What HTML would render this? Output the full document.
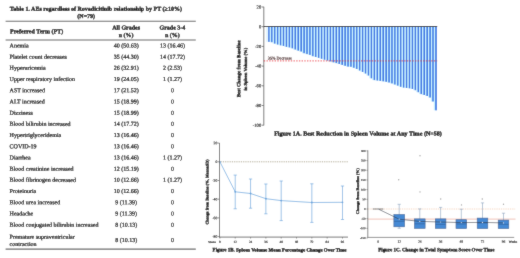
<!DOCTYPE html>
<html><head><meta charset="utf-8"><title>Figure</title>
<style>html,body{margin:0;padding:0;background:#fff;}body{width:520px;height:258px;overflow:hidden;font-family:"Liberation Serif",serif;}svg{display:block;}text{font-family:"Liberation Serif",serif;stroke:#000;stroke-width:0.22px;}text[font-weight=bold]{stroke-width:0.3px;}</style>
</head><body>
<svg width="520" height="258" viewBox="0 0 520 258">
<defs><filter id="soft" x="0" y="0" width="520" height="258" filterUnits="userSpaceOnUse"><feConvolveMatrix order="3" kernelMatrix="0.25 1 0.25 1 10 1 0.25 1 0.25" divisor="15" edgeMode="duplicate" preserveAlpha="true"/></filter></defs>
<rect x="0" y="0" width="520" height="258" fill="#ffffff"/>
<g filter="url(#soft)">
<rect x="0" y="0" width="520" height="258" fill="#ffffff"/>
<g id="table">
<text transform="translate(9.80 10.70) rotate(0.03)" font-size="6" font-weight="bold" text-anchor="start" fill="#000" >Table 1. AEs regardless of Rovadicitinib relationship by PT (≥10%)</text>
<text transform="translate(86.20 17.90) rotate(0.03)" font-size="6" font-weight="bold" text-anchor="middle" fill="#000" >(N=79)</text>
<line x1="5.60" y1="21.20" x2="195.80" y2="21.20" stroke="#666666" stroke-width="1.05" />
<line x1="5.60" y1="39.90" x2="195.80" y2="39.90" stroke="#666666" stroke-width="1.05" />
<line x1="5.60" y1="249.10" x2="195.80" y2="249.10" stroke="#666666" stroke-width="1.05" />
<text transform="translate(10.10 33.30) rotate(0.03)" font-size="6" font-weight="bold" text-anchor="start" fill="#000" >Preferred Term (PT)</text>
<text transform="translate(126.20 29.40) rotate(0.03)" font-size="6" font-weight="bold" text-anchor="middle" fill="#000" >All Grades</text>
<text transform="translate(126.20 36.90) rotate(0.03)" font-size="6" font-weight="bold" text-anchor="middle" fill="#000" >n (%)</text>
<text transform="translate(172.40 29.40) rotate(0.03)" font-size="6" font-weight="bold" text-anchor="middle" fill="#000" >Grade 3-4</text>
<text transform="translate(172.40 36.90) rotate(0.03)" font-size="6" font-weight="bold" text-anchor="middle" fill="#000" >n (%)</text>
<text transform="translate(9.60 47.45) rotate(0.03)" font-size="6" text-anchor="start" fill="#000" >Anemia</text>
<text transform="translate(126.20 47.45) rotate(0.03)" font-size="6" text-anchor="middle" fill="#000" >40 (50.63)</text>
<text transform="translate(172.40 47.45) rotate(0.03)" font-size="6" text-anchor="middle" fill="#000" >13 (16.46)</text>
<text transform="translate(9.60 58.65) rotate(0.03)" font-size="6" text-anchor="start" fill="#000" >Platelet count decreases</text>
<text transform="translate(126.20 58.65) rotate(0.03)" font-size="6" text-anchor="middle" fill="#000" >35 (44.30)</text>
<text transform="translate(172.40 58.65) rotate(0.03)" font-size="6" text-anchor="middle" fill="#000" >14 (17.72)</text>
<text transform="translate(9.60 69.85) rotate(0.03)" font-size="6" text-anchor="start" fill="#000" >Hyperuricemia</text>
<text transform="translate(126.20 69.85) rotate(0.03)" font-size="6" text-anchor="middle" fill="#000" >26 (32.91)</text>
<text transform="translate(172.40 69.85) rotate(0.03)" font-size="6" text-anchor="middle" fill="#000" >2 (2.53)</text>
<text transform="translate(9.60 81.05) rotate(0.03)" font-size="6" text-anchor="start" fill="#000" >Upper respiratory infection</text>
<text transform="translate(126.20 81.05) rotate(0.03)" font-size="6" text-anchor="middle" fill="#000" >19 (24.05)</text>
<text transform="translate(172.40 81.05) rotate(0.03)" font-size="6" text-anchor="middle" fill="#000" >1 (1.27)</text>
<text transform="translate(9.60 92.25) rotate(0.03)" font-size="6" text-anchor="start" fill="#000" >AST increased</text>
<text transform="translate(126.20 92.25) rotate(0.03)" font-size="6" text-anchor="middle" fill="#000" >17 (21.52)</text>
<text transform="translate(172.40 92.25) rotate(0.03)" font-size="6" text-anchor="middle" fill="#000" >0</text>
<text transform="translate(9.60 103.45) rotate(0.03)" font-size="6" text-anchor="start" fill="#000" >ALT increased</text>
<text transform="translate(126.20 103.45) rotate(0.03)" font-size="6" text-anchor="middle" fill="#000" >15 (18.99)</text>
<text transform="translate(172.40 103.45) rotate(0.03)" font-size="6" text-anchor="middle" fill="#000" >0</text>
<text transform="translate(9.60 114.65) rotate(0.03)" font-size="6" text-anchor="start" fill="#000" >Dizziness</text>
<text transform="translate(126.20 114.65) rotate(0.03)" font-size="6" text-anchor="middle" fill="#000" >15 (18.99)</text>
<text transform="translate(172.40 114.65) rotate(0.03)" font-size="6" text-anchor="middle" fill="#000" >0</text>
<text transform="translate(9.60 125.85) rotate(0.03)" font-size="6" text-anchor="start" fill="#000" >Blood bilirubin increased</text>
<text transform="translate(126.20 125.85) rotate(0.03)" font-size="6" text-anchor="middle" fill="#000" >14 (17.72)</text>
<text transform="translate(172.40 125.85) rotate(0.03)" font-size="6" text-anchor="middle" fill="#000" >0</text>
<text transform="translate(9.60 137.05) rotate(0.03)" font-size="6" text-anchor="start" fill="#000" >Hypertriglyceridemia</text>
<text transform="translate(126.20 137.05) rotate(0.03)" font-size="6" text-anchor="middle" fill="#000" >13 (16.46)</text>
<text transform="translate(172.40 137.05) rotate(0.03)" font-size="6" text-anchor="middle" fill="#000" >0</text>
<text transform="translate(9.60 148.25) rotate(0.03)" font-size="6" text-anchor="start" fill="#000" >COVID-19</text>
<text transform="translate(126.20 148.25) rotate(0.03)" font-size="6" text-anchor="middle" fill="#000" >13 (16.46)</text>
<text transform="translate(172.40 148.25) rotate(0.03)" font-size="6" text-anchor="middle" fill="#000" >0</text>
<text transform="translate(9.60 159.45) rotate(0.03)" font-size="6" text-anchor="start" fill="#000" >Diarrhea</text>
<text transform="translate(126.20 159.45) rotate(0.03)" font-size="6" text-anchor="middle" fill="#000" >13 (16.46)</text>
<text transform="translate(172.40 159.45) rotate(0.03)" font-size="6" text-anchor="middle" fill="#000" >1 (1.27)</text>
<text transform="translate(9.60 170.65) rotate(0.03)" font-size="6" text-anchor="start" fill="#000" >Blood creatinine increased</text>
<text transform="translate(126.20 170.65) rotate(0.03)" font-size="6" text-anchor="middle" fill="#000" >12 (15.19)</text>
<text transform="translate(172.40 170.65) rotate(0.03)" font-size="6" text-anchor="middle" fill="#000" >0</text>
<text transform="translate(9.60 181.85) rotate(0.03)" font-size="6" text-anchor="start" fill="#000" >Blood fibrinogen decreased</text>
<text transform="translate(126.20 181.85) rotate(0.03)" font-size="6" text-anchor="middle" fill="#000" >10 (12.66)</text>
<text transform="translate(172.40 181.85) rotate(0.03)" font-size="6" text-anchor="middle" fill="#000" >1 (1.27)</text>
<text transform="translate(9.60 193.05) rotate(0.03)" font-size="6" text-anchor="start" fill="#000" >Proteinuria</text>
<text transform="translate(126.20 193.05) rotate(0.03)" font-size="6" text-anchor="middle" fill="#000" >10 (12.66)</text>
<text transform="translate(172.40 193.05) rotate(0.03)" font-size="6" text-anchor="middle" fill="#000" >0</text>
<text transform="translate(9.60 204.25) rotate(0.03)" font-size="6" text-anchor="start" fill="#000" >Blood urea increased</text>
<text transform="translate(126.20 204.25) rotate(0.03)" font-size="6" text-anchor="middle" fill="#000" >9 (11.39)</text>
<text transform="translate(172.40 204.25) rotate(0.03)" font-size="6" text-anchor="middle" fill="#000" >0</text>
<text transform="translate(9.60 215.45) rotate(0.03)" font-size="6" text-anchor="start" fill="#000" >Headache</text>
<text transform="translate(126.20 215.45) rotate(0.03)" font-size="6" text-anchor="middle" fill="#000" >9 (11.39)</text>
<text transform="translate(172.40 215.45) rotate(0.03)" font-size="6" text-anchor="middle" fill="#000" >0</text>
<text transform="translate(9.60 226.65) rotate(0.03)" font-size="6" text-anchor="start" fill="#000" >Blood conjugated bilirubin increased</text>
<text transform="translate(126.20 226.65) rotate(0.03)" font-size="6" text-anchor="middle" fill="#000" >8 (10.13)</text>
<text transform="translate(172.40 226.65) rotate(0.03)" font-size="6" text-anchor="middle" fill="#000" >0</text>
<text transform="translate(9.60 238.70) rotate(0.03)" font-size="6" text-anchor="start" fill="#000" >Premature supraventricular</text>
<text transform="translate(9.60 245.90) rotate(0.03)" font-size="6" text-anchor="start" fill="#000" >contraction</text>
<text transform="translate(126.20 241.90) rotate(0.03)" font-size="6" text-anchor="middle" fill="#000" >8 (10.13)</text>
<text transform="translate(172.40 241.90) rotate(0.03)" font-size="6" text-anchor="middle" fill="#000" >0</text>
</g>
<g id="fig1a">
<rect x="266.10" y="26.70" width="3.65" height="15.20" fill="#e2f5ff"/>
<rect x="268.20" y="26.70" width="1.6" height="15.20" fill="#2f6ee2"/>
<rect x="269.73" y="26.70" width="2.95" height="15.50" fill="#c6f0ff"/>
<rect x="271.13" y="26.70" width="1.6" height="15.50" fill="#2f6ee2"/>
<rect x="272.66" y="26.70" width="2.95" height="16.90" fill="#c6f0ff"/>
<rect x="274.06" y="26.70" width="1.6" height="16.90" fill="#2f6ee2"/>
<rect x="275.59" y="26.70" width="2.95" height="17.80" fill="#c6f0ff"/>
<rect x="276.99" y="26.70" width="1.6" height="17.80" fill="#2f6ee2"/>
<rect x="278.52" y="26.70" width="2.95" height="18.60" fill="#c6f0ff"/>
<rect x="279.92" y="26.70" width="1.6" height="18.60" fill="#2f6ee2"/>
<rect x="281.45" y="26.70" width="2.95" height="19.30" fill="#c6f0ff"/>
<rect x="282.85" y="26.70" width="1.6" height="19.30" fill="#2f6ee2"/>
<rect x="284.38" y="26.70" width="2.95" height="20.20" fill="#c6f0ff"/>
<rect x="285.78" y="26.70" width="1.6" height="20.20" fill="#2f6ee2"/>
<rect x="287.31" y="26.70" width="2.95" height="20.70" fill="#c6f0ff"/>
<rect x="288.71" y="26.70" width="1.6" height="20.70" fill="#2f6ee2"/>
<rect x="290.24" y="26.70" width="2.95" height="21.60" fill="#c6f0ff"/>
<rect x="291.64" y="26.70" width="1.6" height="21.60" fill="#2f6ee2"/>
<rect x="293.17" y="26.70" width="2.95" height="22.80" fill="#c6f0ff"/>
<rect x="294.57" y="26.70" width="1.6" height="22.80" fill="#2f6ee2"/>
<rect x="296.10" y="26.70" width="2.95" height="23.90" fill="#c6f0ff"/>
<rect x="297.50" y="26.70" width="1.6" height="23.90" fill="#2f6ee2"/>
<rect x="299.03" y="26.70" width="2.95" height="24.80" fill="#c6f0ff"/>
<rect x="300.43" y="26.70" width="1.6" height="24.80" fill="#2f6ee2"/>
<rect x="301.96" y="26.70" width="2.95" height="26.50" fill="#c6f0ff"/>
<rect x="303.36" y="26.70" width="1.6" height="26.50" fill="#2f6ee2"/>
<rect x="304.89" y="26.70" width="2.95" height="27.40" fill="#c6f0ff"/>
<rect x="306.29" y="26.70" width="1.6" height="27.40" fill="#2f6ee2"/>
<rect x="307.82" y="26.70" width="2.95" height="28.20" fill="#c6f0ff"/>
<rect x="309.22" y="26.70" width="1.6" height="28.20" fill="#2f6ee2"/>
<rect x="310.75" y="26.70" width="2.95" height="29.50" fill="#c6f0ff"/>
<rect x="312.15" y="26.70" width="1.6" height="29.50" fill="#2f6ee2"/>
<rect x="313.68" y="26.70" width="2.95" height="30.30" fill="#c6f0ff"/>
<rect x="315.08" y="26.70" width="1.6" height="30.30" fill="#2f6ee2"/>
<rect x="316.61" y="26.70" width="2.95" height="31.20" fill="#c6f0ff"/>
<rect x="318.01" y="26.70" width="1.6" height="31.20" fill="#2f6ee2"/>
<rect x="319.54" y="26.70" width="2.95" height="32.10" fill="#c6f0ff"/>
<rect x="320.94" y="26.70" width="1.6" height="32.10" fill="#2f6ee2"/>
<rect x="322.47" y="26.70" width="2.95" height="33.00" fill="#c6f0ff"/>
<rect x="323.87" y="26.70" width="1.6" height="33.00" fill="#2f6ee2"/>
<rect x="325.40" y="26.70" width="2.95" height="33.80" fill="#c6f0ff"/>
<rect x="326.80" y="26.70" width="1.6" height="33.80" fill="#2f6ee2"/>
<rect x="328.33" y="26.70" width="2.95" height="34.70" fill="#c6f0ff"/>
<rect x="329.73" y="26.70" width="1.6" height="34.70" fill="#2f6ee2"/>
<rect x="331.26" y="26.70" width="2.95" height="35.60" fill="#c6f0ff"/>
<rect x="332.66" y="26.70" width="1.6" height="35.60" fill="#2f6ee2"/>
<rect x="334.19" y="26.70" width="2.95" height="36.40" fill="#c6f0ff"/>
<rect x="335.59" y="26.70" width="1.6" height="36.40" fill="#2f6ee2"/>
<rect x="337.12" y="26.70" width="2.95" height="37.30" fill="#c6f0ff"/>
<rect x="338.52" y="26.70" width="1.6" height="37.30" fill="#2f6ee2"/>
<rect x="340.05" y="26.70" width="2.95" height="38.20" fill="#c6f0ff"/>
<rect x="341.45" y="26.70" width="1.6" height="38.20" fill="#2f6ee2"/>
<rect x="342.98" y="26.70" width="2.95" height="39.10" fill="#c6f0ff"/>
<rect x="344.38" y="26.70" width="1.6" height="39.10" fill="#2f6ee2"/>
<rect x="345.91" y="26.70" width="2.95" height="39.90" fill="#c6f0ff"/>
<rect x="347.31" y="26.70" width="1.6" height="39.90" fill="#2f6ee2"/>
<rect x="348.84" y="26.70" width="2.95" height="40.10" fill="#c6f0ff"/>
<rect x="350.24" y="26.70" width="1.6" height="40.10" fill="#2f6ee2"/>
<rect x="351.77" y="26.70" width="2.95" height="41.10" fill="#c6f0ff"/>
<rect x="353.17" y="26.70" width="1.6" height="41.10" fill="#2f6ee2"/>
<rect x="354.70" y="26.70" width="2.95" height="42.30" fill="#c6f0ff"/>
<rect x="356.10" y="26.70" width="1.6" height="42.30" fill="#2f6ee2"/>
<rect x="357.63" y="26.70" width="2.95" height="43.80" fill="#c6f0ff"/>
<rect x="359.03" y="26.70" width="1.6" height="43.80" fill="#2f6ee2"/>
<rect x="360.56" y="26.70" width="2.95" height="45.30" fill="#c6f0ff"/>
<rect x="361.96" y="26.70" width="1.6" height="45.30" fill="#2f6ee2"/>
<rect x="363.49" y="26.70" width="2.95" height="46.80" fill="#c6f0ff"/>
<rect x="364.89" y="26.70" width="1.6" height="46.80" fill="#2f6ee2"/>
<rect x="366.42" y="26.70" width="2.95" height="48.80" fill="#c6f0ff"/>
<rect x="367.82" y="26.70" width="1.6" height="48.80" fill="#2f6ee2"/>
<rect x="369.35" y="26.70" width="2.95" height="51.60" fill="#c6f0ff"/>
<rect x="370.75" y="26.70" width="1.6" height="51.60" fill="#2f6ee2"/>
<rect x="372.28" y="26.70" width="2.95" height="53.40" fill="#c6f0ff"/>
<rect x="373.68" y="26.70" width="1.6" height="53.40" fill="#2f6ee2"/>
<rect x="375.21" y="26.70" width="2.95" height="53.80" fill="#c6f0ff"/>
<rect x="376.61" y="26.70" width="1.6" height="53.80" fill="#2f6ee2"/>
<rect x="378.14" y="26.70" width="2.95" height="54.20" fill="#c6f0ff"/>
<rect x="379.54" y="26.70" width="1.6" height="54.20" fill="#2f6ee2"/>
<rect x="381.07" y="26.70" width="2.95" height="54.60" fill="#c6f0ff"/>
<rect x="382.47" y="26.70" width="1.6" height="54.60" fill="#2f6ee2"/>
<rect x="384.00" y="26.70" width="2.95" height="55.10" fill="#c6f0ff"/>
<rect x="385.40" y="26.70" width="1.6" height="55.10" fill="#2f6ee2"/>
<rect x="386.93" y="26.70" width="2.95" height="55.80" fill="#c6f0ff"/>
<rect x="388.33" y="26.70" width="1.6" height="55.80" fill="#2f6ee2"/>
<rect x="389.86" y="26.70" width="2.95" height="56.70" fill="#c6f0ff"/>
<rect x="391.26" y="26.70" width="1.6" height="56.70" fill="#2f6ee2"/>
<rect x="392.79" y="26.70" width="2.95" height="57.80" fill="#c6f0ff"/>
<rect x="394.19" y="26.70" width="1.6" height="57.80" fill="#2f6ee2"/>
<rect x="395.72" y="26.70" width="2.95" height="58.90" fill="#c6f0ff"/>
<rect x="397.12" y="26.70" width="1.6" height="58.90" fill="#2f6ee2"/>
<rect x="398.65" y="26.70" width="2.95" height="60.10" fill="#c6f0ff"/>
<rect x="400.05" y="26.70" width="1.6" height="60.10" fill="#2f6ee2"/>
<rect x="401.58" y="26.70" width="2.95" height="60.90" fill="#c6f0ff"/>
<rect x="402.98" y="26.70" width="1.6" height="60.90" fill="#2f6ee2"/>
<rect x="404.51" y="26.70" width="2.95" height="61.30" fill="#c6f0ff"/>
<rect x="405.91" y="26.70" width="1.6" height="61.30" fill="#2f6ee2"/>
<rect x="407.44" y="26.70" width="2.95" height="61.60" fill="#c6f0ff"/>
<rect x="408.84" y="26.70" width="1.6" height="61.60" fill="#2f6ee2"/>
<rect x="410.37" y="26.70" width="2.95" height="62.30" fill="#c6f0ff"/>
<rect x="411.77" y="26.70" width="1.6" height="62.30" fill="#2f6ee2"/>
<rect x="413.30" y="26.70" width="2.95" height="63.50" fill="#c6f0ff"/>
<rect x="414.70" y="26.70" width="1.6" height="63.50" fill="#2f6ee2"/>
<rect x="416.23" y="26.70" width="2.95" height="65.50" fill="#c6f0ff"/>
<rect x="417.63" y="26.70" width="1.6" height="65.50" fill="#2f6ee2"/>
<rect x="419.16" y="26.70" width="2.95" height="67.40" fill="#c6f0ff"/>
<rect x="420.56" y="26.70" width="1.6" height="67.40" fill="#2f6ee2"/>
<rect x="422.09" y="26.70" width="2.95" height="68.30" fill="#c6f0ff"/>
<rect x="423.49" y="26.70" width="1.6" height="68.30" fill="#2f6ee2"/>
<rect x="425.02" y="26.70" width="2.95" height="69.30" fill="#c6f0ff"/>
<rect x="426.42" y="26.70" width="1.6" height="69.30" fill="#2f6ee2"/>
<rect x="427.95" y="26.70" width="2.95" height="70.80" fill="#c6f0ff"/>
<rect x="429.35" y="26.70" width="1.6" height="70.80" fill="#2f6ee2"/>
<rect x="430.88" y="26.70" width="2.95" height="74.80" fill="#c6f0ff"/>
<rect x="432.28" y="26.70" width="1.6" height="74.80" fill="#2f6ee2"/>
<rect x="433.81" y="26.70" width="2.95" height="83.60" fill="#c6f0ff"/>
<rect x="435.21" y="26.70" width="1.6" height="83.60" fill="#2f6ee2"/>
<line x1="263.80" y1="6.80" x2="263.80" y2="125.40" stroke="#606060" stroke-width="0.85" />
<line x1="262.00" y1="7.00" x2="263.80" y2="7.00" stroke="#606060" stroke-width="0.8" />
<text transform="translate(261.20 8.50) rotate(0.03)" font-size="4.6" text-anchor="end" fill="#1c1c1c"  style="stroke:#1c1c1c;stroke-width:0.16px">20</text>
<line x1="262.00" y1="26.70" x2="263.80" y2="26.70" stroke="#606060" stroke-width="0.8" />
<text transform="translate(261.20 28.20) rotate(0.03)" font-size="4.6" text-anchor="end" fill="#1c1c1c"  style="stroke:#1c1c1c;stroke-width:0.16px">0</text>
<line x1="262.00" y1="46.40" x2="263.80" y2="46.40" stroke="#606060" stroke-width="0.8" />
<text transform="translate(261.20 47.90) rotate(0.03)" font-size="4.6" text-anchor="end" fill="#1c1c1c"  style="stroke:#1c1c1c;stroke-width:0.16px">-20</text>
<line x1="262.00" y1="66.10" x2="263.80" y2="66.10" stroke="#606060" stroke-width="0.8" />
<text transform="translate(261.20 67.60) rotate(0.03)" font-size="4.6" text-anchor="end" fill="#1c1c1c"  style="stroke:#1c1c1c;stroke-width:0.16px">-40</text>
<line x1="262.00" y1="85.80" x2="263.80" y2="85.80" stroke="#606060" stroke-width="0.8" />
<text transform="translate(261.20 87.30) rotate(0.03)" font-size="4.6" text-anchor="end" fill="#1c1c1c"  style="stroke:#1c1c1c;stroke-width:0.16px">-60</text>
<line x1="262.00" y1="105.50" x2="263.80" y2="105.50" stroke="#606060" stroke-width="0.8" />
<text transform="translate(261.20 107.00) rotate(0.03)" font-size="4.6" text-anchor="end" fill="#1c1c1c"  style="stroke:#1c1c1c;stroke-width:0.16px">-80</text>
<line x1="262.00" y1="125.20" x2="263.80" y2="125.20" stroke="#606060" stroke-width="0.8" />
<text transform="translate(261.20 126.70) rotate(0.03)" font-size="4.6" text-anchor="end" fill="#1c1c1c"  style="stroke:#1c1c1c;stroke-width:0.16px">-100</text>
<line x1="263.80" y1="26.50" x2="437.20" y2="26.50" stroke="#10101a" stroke-width="0.95" />
<line x1="263.80" y1="60.90" x2="437.20" y2="60.90" stroke="#e8242e" stroke-width="0.8" stroke-dasharray="1.4 1.3"/>
<text transform="translate(267.80 59.60) rotate(0.03)" font-size="4.2" text-anchor="start" fill="#3a1c1c"  style="stroke:#3a1c1c;stroke-width:0.16px">35% Decrease</text>
<text transform="translate(240.3,68.8) rotate(-89.97)" font-size="4.97" font-weight="bold" text-anchor="middle" fill="#000">Best Change from Baseline</text>
<text transform="translate(246.9,69.2) rotate(-89.97)" font-size="4.6" font-weight="bold" text-anchor="middle" fill="#000">in Spleen Volume (%)</text>
<text transform="translate(358.00 135.50) rotate(0.03)" font-size="6.09" font-weight="bold" text-anchor="middle" fill="#000" >Figure 1A. Best Reduction in Spleen Volume at Any Time (N=58)</text>
</g>
<g id="fig1b">
<line x1="219.50" y1="161.80" x2="348.00" y2="161.80" stroke="#9c9478" stroke-width="0.85" stroke-dasharray="0.9 0.9"/>
<polyline fill="none" stroke="#66a3dc" stroke-width="0.7" points="219.90,161.80 235.22,191.80 250.55,193.50 265.87,198.70 281.20,200.60 311.84,202.50 342.49,202.30"/>
<circle cx="219.90" cy="161.80" r="0.9" fill="#66a3dc"/>
<line x1="235.22" y1="175.10" x2="235.22" y2="208.80" stroke="#66a3dc" stroke-width="0.65" />
<line x1="233.62" y1="175.10" x2="236.82" y2="175.10" stroke="#66a3dc" stroke-width="0.65" />
<line x1="233.62" y1="208.80" x2="236.82" y2="208.80" stroke="#66a3dc" stroke-width="0.65" />
<circle cx="235.22" cy="191.80" r="0.9" fill="#66a3dc"/>
<line x1="250.55" y1="179.00" x2="250.55" y2="208.20" stroke="#66a3dc" stroke-width="0.65" />
<line x1="248.95" y1="179.00" x2="252.15" y2="179.00" stroke="#66a3dc" stroke-width="0.65" />
<line x1="248.95" y1="208.20" x2="252.15" y2="208.20" stroke="#66a3dc" stroke-width="0.65" />
<circle cx="250.55" cy="193.50" r="0.9" fill="#66a3dc"/>
<line x1="265.87" y1="184.00" x2="265.87" y2="213.80" stroke="#66a3dc" stroke-width="0.65" />
<line x1="264.27" y1="184.00" x2="267.47" y2="184.00" stroke="#66a3dc" stroke-width="0.65" />
<line x1="264.27" y1="213.80" x2="267.47" y2="213.80" stroke="#66a3dc" stroke-width="0.65" />
<circle cx="265.87" cy="198.70" r="0.9" fill="#66a3dc"/>
<line x1="281.20" y1="181.00" x2="281.20" y2="220.60" stroke="#66a3dc" stroke-width="0.65" />
<line x1="279.60" y1="181.00" x2="282.80" y2="181.00" stroke="#66a3dc" stroke-width="0.65" />
<line x1="279.60" y1="220.60" x2="282.80" y2="220.60" stroke="#66a3dc" stroke-width="0.65" />
<circle cx="281.20" cy="200.60" r="0.9" fill="#66a3dc"/>
<line x1="311.84" y1="183.80" x2="311.84" y2="222.40" stroke="#66a3dc" stroke-width="0.65" />
<line x1="310.24" y1="183.80" x2="313.44" y2="183.80" stroke="#66a3dc" stroke-width="0.65" />
<line x1="310.24" y1="222.40" x2="313.44" y2="222.40" stroke="#66a3dc" stroke-width="0.65" />
<circle cx="311.84" cy="202.50" r="0.9" fill="#66a3dc"/>
<line x1="342.49" y1="186.00" x2="342.49" y2="219.50" stroke="#66a3dc" stroke-width="0.65" />
<line x1="340.89" y1="186.00" x2="344.09" y2="186.00" stroke="#66a3dc" stroke-width="0.65" />
<line x1="340.89" y1="219.50" x2="344.09" y2="219.50" stroke="#66a3dc" stroke-width="0.65" />
<circle cx="342.49" cy="202.30" r="0.9" fill="#66a3dc"/>
<line x1="219.50" y1="143.00" x2="219.50" y2="237.50" stroke="#606060" stroke-width="0.85" />
<line x1="219.10" y1="237.10" x2="348.00" y2="237.10" stroke="#606060" stroke-width="0.85" />
<line x1="218.00" y1="143.10" x2="219.50" y2="143.10" stroke="#606060" stroke-width="0.7" />
<text transform="translate(217.40 144.35) rotate(0.03)" font-size="3.8" text-anchor="end" fill="#1c1c1c"  style="stroke:#1c1c1c;stroke-width:0.16px">20</text>
<line x1="218.00" y1="161.80" x2="219.50" y2="161.80" stroke="#606060" stroke-width="0.7" />
<text transform="translate(217.40 163.05) rotate(0.03)" font-size="3.8" text-anchor="end" fill="#1c1c1c"  style="stroke:#1c1c1c;stroke-width:0.16px">0</text>
<line x1="218.00" y1="180.50" x2="219.50" y2="180.50" stroke="#606060" stroke-width="0.7" />
<text transform="translate(217.40 181.75) rotate(0.03)" font-size="3.8" text-anchor="end" fill="#1c1c1c"  style="stroke:#1c1c1c;stroke-width:0.16px">-20</text>
<line x1="218.00" y1="199.20" x2="219.50" y2="199.20" stroke="#606060" stroke-width="0.7" />
<text transform="translate(217.40 200.45) rotate(0.03)" font-size="3.8" text-anchor="end" fill="#1c1c1c"  style="stroke:#1c1c1c;stroke-width:0.16px">-40</text>
<line x1="218.00" y1="217.90" x2="219.50" y2="217.90" stroke="#606060" stroke-width="0.7" />
<text transform="translate(217.40 219.15) rotate(0.03)" font-size="3.8" text-anchor="end" fill="#1c1c1c"  style="stroke:#1c1c1c;stroke-width:0.16px">-60</text>
<line x1="218.00" y1="236.60" x2="219.50" y2="236.60" stroke="#606060" stroke-width="0.7" />
<text transform="translate(217.40 237.85) rotate(0.03)" font-size="3.8" text-anchor="end" fill="#1c1c1c"  style="stroke:#1c1c1c;stroke-width:0.16px">-80</text>
<line x1="219.90" y1="237.10" x2="219.90" y2="238.50" stroke="#606060" stroke-width="0.7" />
<text transform="translate(219.90 243.10) rotate(0.03)" font-size="3.3" text-anchor="middle" fill="#1c1c1c"  style="stroke:#1c1c1c;stroke-width:0.16px">0</text>
<line x1="235.22" y1="237.10" x2="235.22" y2="238.50" stroke="#606060" stroke-width="0.7" />
<text transform="translate(235.22 243.10) rotate(0.03)" font-size="3.3" text-anchor="middle" fill="#1c1c1c"  style="stroke:#1c1c1c;stroke-width:0.16px">12</text>
<line x1="250.55" y1="237.10" x2="250.55" y2="238.50" stroke="#606060" stroke-width="0.7" />
<text transform="translate(250.55 243.10) rotate(0.03)" font-size="3.3" text-anchor="middle" fill="#1c1c1c"  style="stroke:#1c1c1c;stroke-width:0.16px">24</text>
<line x1="265.87" y1="237.10" x2="265.87" y2="238.50" stroke="#606060" stroke-width="0.7" />
<text transform="translate(265.87 243.10) rotate(0.03)" font-size="3.3" text-anchor="middle" fill="#1c1c1c"  style="stroke:#1c1c1c;stroke-width:0.16px">36</text>
<line x1="281.20" y1="237.10" x2="281.20" y2="238.50" stroke="#606060" stroke-width="0.7" />
<text transform="translate(281.20 243.10) rotate(0.03)" font-size="3.3" text-anchor="middle" fill="#1c1c1c"  style="stroke:#1c1c1c;stroke-width:0.16px">48</text>
<line x1="296.52" y1="237.10" x2="296.52" y2="238.50" stroke="#606060" stroke-width="0.7" />
<text transform="translate(296.52 243.10) rotate(0.03)" font-size="3.3" text-anchor="middle" fill="#1c1c1c"  style="stroke:#1c1c1c;stroke-width:0.16px">60</text>
<line x1="311.84" y1="237.10" x2="311.84" y2="238.50" stroke="#606060" stroke-width="0.7" />
<text transform="translate(311.84 243.10) rotate(0.03)" font-size="3.3" text-anchor="middle" fill="#1c1c1c"  style="stroke:#1c1c1c;stroke-width:0.16px">72</text>
<line x1="327.17" y1="237.10" x2="327.17" y2="238.50" stroke="#606060" stroke-width="0.7" />
<text transform="translate(327.17 243.10) rotate(0.03)" font-size="3.3" text-anchor="middle" fill="#1c1c1c"  style="stroke:#1c1c1c;stroke-width:0.16px">84</text>
<line x1="342.49" y1="237.10" x2="342.49" y2="238.50" stroke="#606060" stroke-width="0.7" />
<text transform="translate(342.49 243.10) rotate(0.03)" font-size="3.3" text-anchor="middle" fill="#1c1c1c"  style="stroke:#1c1c1c;stroke-width:0.16px">96</text>
<text transform="translate(212.00 243.00) rotate(0.03)" font-size="2.9" text-anchor="middle" fill="#1c1c1c"  style="stroke:#1c1c1c;stroke-width:0.16px">Weeks</text>
<text transform="translate(208.6,192.0) rotate(-89.97)" font-size="4.06" font-weight="bold" text-anchor="middle" fill="#000">Change from Baseline (%, Mean±SD)</text>
<text transform="translate(279.60 251.40) rotate(0.03)" font-size="4.96" font-weight="bold" text-anchor="middle" fill="#000" >Figure 1B. Spleen Volume Mean Percentage Change Over Time</text>
</g>
<g id="fig1c">
<line x1="367.80" y1="209.00" x2="515.50" y2="209.00" stroke="#f2c09c" stroke-width="0.7" stroke-dasharray="0.9 0.9"/>
<line x1="367.80" y1="219.10" x2="515.50" y2="219.10" stroke="#e69888" stroke-width="0.6" />
<line x1="372.80" y1="209.00" x2="383.40" y2="209.00" stroke="#555" stroke-width="0.7" />
<line x1="399.20" y1="204.30" x2="399.20" y2="214.60" stroke="#86a0bc" stroke-width="0.6" />
<line x1="397.60" y1="204.30" x2="400.80" y2="204.30" stroke="#86a0bc" stroke-width="0.6" />
<line x1="399.20" y1="226.80" x2="399.20" y2="228.30" stroke="#86a0bc" stroke-width="0.6" />
<line x1="397.60" y1="228.30" x2="400.80" y2="228.30" stroke="#86a0bc" stroke-width="0.6" />
<rect x="393.90" y="214.60" width="10.6" height="12.20" fill="#4589d4" stroke="#2b5c96" stroke-width="0.6"/>
<line x1="393.90" y1="221.30" x2="404.50" y2="221.30" stroke="#2b5c96" stroke-width="0.6" />
<line x1="419.80" y1="208.90" x2="419.80" y2="218.90" stroke="#86a0bc" stroke-width="0.6" />
<line x1="418.20" y1="208.90" x2="421.40" y2="208.90" stroke="#86a0bc" stroke-width="0.6" />
<rect x="414.50" y="218.90" width="10.6" height="9.40" fill="#4589d4" stroke="#2b5c96" stroke-width="0.6"/>
<line x1="414.50" y1="223.80" x2="425.10" y2="223.80" stroke="#2b5c96" stroke-width="0.6" />
<line x1="440.60" y1="207.40" x2="440.60" y2="218.90" stroke="#86a0bc" stroke-width="0.6" />
<line x1="439.00" y1="207.40" x2="442.20" y2="207.40" stroke="#86a0bc" stroke-width="0.6" />
<rect x="435.30" y="218.90" width="10.6" height="9.40" fill="#4589d4" stroke="#2b5c96" stroke-width="0.6"/>
<line x1="435.30" y1="224.40" x2="445.90" y2="224.40" stroke="#2b5c96" stroke-width="0.6" />
<line x1="461.30" y1="209.20" x2="461.30" y2="219.70" stroke="#86a0bc" stroke-width="0.6" />
<line x1="459.70" y1="209.20" x2="462.90" y2="209.20" stroke="#86a0bc" stroke-width="0.6" />
<rect x="456.00" y="219.70" width="10.6" height="8.80" fill="#4589d4" stroke="#2b5c96" stroke-width="0.6"/>
<line x1="456.00" y1="224.00" x2="466.60" y2="224.00" stroke="#2b5c96" stroke-width="0.6" />
<line x1="482.50" y1="202.90" x2="482.50" y2="218.10" stroke="#86a0bc" stroke-width="0.6" />
<line x1="480.90" y1="202.90" x2="484.10" y2="202.90" stroke="#86a0bc" stroke-width="0.6" />
<rect x="477.20" y="218.10" width="10.6" height="10.40" fill="#4589d4" stroke="#2b5c96" stroke-width="0.6"/>
<line x1="477.20" y1="223.00" x2="487.80" y2="223.00" stroke="#2b5c96" stroke-width="0.6" />
<line x1="503.50" y1="213.20" x2="503.50" y2="220.10" stroke="#86a0bc" stroke-width="0.6" />
<line x1="501.90" y1="213.20" x2="505.10" y2="213.20" stroke="#86a0bc" stroke-width="0.6" />
<rect x="498.20" y="220.10" width="10.6" height="8.40" fill="#4589d4" stroke="#2b5c96" stroke-width="0.6"/>
<line x1="498.20" y1="224.30" x2="508.80" y2="224.30" stroke="#2b5c96" stroke-width="0.6" />
<polyline fill="none" stroke="#2e3440" stroke-width="0.55" points="378.20,209.00 399.20,219.20 419.80,221.40 440.60,222.00 461.30,222.60 482.50,222.40 503.50,222.90"/>
<circle cx="378.20" cy="209.00" r="0.6" fill="#cfe0f2"/>
<circle cx="399.20" cy="219.20" r="0.6" fill="#cfe0f2"/>
<circle cx="419.80" cy="221.40" r="0.6" fill="#cfe0f2"/>
<circle cx="440.60" cy="222.00" r="0.6" fill="#cfe0f2"/>
<circle cx="461.30" cy="222.60" r="0.6" fill="#cfe0f2"/>
<circle cx="482.50" cy="222.40" r="0.6" fill="#cfe0f2"/>
<circle cx="503.50" cy="222.90" r="0.6" fill="#cfe0f2"/>
<circle cx="398.70" cy="179.80" r="0.7" fill="#a0a0a0"/>
<circle cx="420.00" cy="155.70" r="0.7" fill="#a0a0a0"/>
<circle cx="420.00" cy="191.90" r="0.7" fill="#a0a0a0"/>
<circle cx="440.70" cy="199.00" r="0.7" fill="#a0a0a0"/>
<circle cx="461.50" cy="204.90" r="0.7" fill="#a0a0a0"/>
<circle cx="482.30" cy="199.00" r="0.7" fill="#a0a0a0"/>
<circle cx="503.50" cy="204.30" r="0.7" fill="#a0a0a0"/>
<line x1="367.80" y1="150.30" x2="367.80" y2="237.80" stroke="#707070" stroke-width="0.85" />
<line x1="367.40" y1="237.40" x2="514.20" y2="237.40" stroke="#7c7c7c" stroke-width="0.85" />
<line x1="366.40" y1="238.04" x2="367.80" y2="238.04" stroke="#606060" stroke-width="0.6" />
<text transform="translate(365.60 239.04) rotate(0.03)" font-size="3.0" text-anchor="end" fill="#1c1c1c"  style="stroke:#1c1c1c;stroke-width:0.16px">-150</text>
<line x1="366.40" y1="228.36" x2="367.80" y2="228.36" stroke="#606060" stroke-width="0.6" />
<text transform="translate(365.60 229.36) rotate(0.03)" font-size="3.0" text-anchor="end" fill="#1c1c1c"  style="stroke:#1c1c1c;stroke-width:0.16px">-100</text>
<line x1="366.40" y1="218.68" x2="367.80" y2="218.68" stroke="#606060" stroke-width="0.6" />
<text transform="translate(365.60 219.68) rotate(0.03)" font-size="3.0" text-anchor="end" fill="#1c1c1c"  style="stroke:#1c1c1c;stroke-width:0.16px">-50</text>
<line x1="366.40" y1="209.00" x2="367.80" y2="209.00" stroke="#606060" stroke-width="0.6" />
<text transform="translate(365.60 210.00) rotate(0.03)" font-size="3.0" text-anchor="end" fill="#1c1c1c"  style="stroke:#1c1c1c;stroke-width:0.16px">0</text>
<line x1="366.40" y1="199.32" x2="367.80" y2="199.32" stroke="#606060" stroke-width="0.6" />
<text transform="translate(365.60 200.32) rotate(0.03)" font-size="3.0" text-anchor="end" fill="#1c1c1c"  style="stroke:#1c1c1c;stroke-width:0.16px">50</text>
<line x1="366.40" y1="189.64" x2="367.80" y2="189.64" stroke="#606060" stroke-width="0.6" />
<text transform="translate(365.60 190.64) rotate(0.03)" font-size="3.0" text-anchor="end" fill="#1c1c1c"  style="stroke:#1c1c1c;stroke-width:0.16px">100</text>
<line x1="366.40" y1="179.96" x2="367.80" y2="179.96" stroke="#606060" stroke-width="0.6" />
<text transform="translate(365.60 180.96) rotate(0.03)" font-size="3.0" text-anchor="end" fill="#1c1c1c"  style="stroke:#1c1c1c;stroke-width:0.16px">150</text>
<line x1="366.40" y1="170.28" x2="367.80" y2="170.28" stroke="#606060" stroke-width="0.6" />
<text transform="translate(365.60 171.28) rotate(0.03)" font-size="3.0" text-anchor="end" fill="#1c1c1c"  style="stroke:#1c1c1c;stroke-width:0.16px">200</text>
<line x1="366.40" y1="160.60" x2="367.80" y2="160.60" stroke="#606060" stroke-width="0.6" />
<text transform="translate(365.60 161.60) rotate(0.03)" font-size="3.0" text-anchor="end" fill="#1c1c1c"  style="stroke:#1c1c1c;stroke-width:0.16px">250</text>
<line x1="366.40" y1="150.92" x2="367.80" y2="150.92" stroke="#606060" stroke-width="0.6" />
<text transform="translate(365.60 151.92) rotate(0.03)" font-size="3.0" text-anchor="end" fill="#1c1c1c"  style="stroke:#1c1c1c;stroke-width:0.16px">300</text>
<text transform="translate(378.20 242.70) rotate(0.03)" font-size="3.6" text-anchor="middle" fill="#1c1c1c"  style="stroke:#1c1c1c;stroke-width:0.16px">0</text>
<text transform="translate(399.20 242.70) rotate(0.03)" font-size="3.6" text-anchor="middle" fill="#1c1c1c"  style="stroke:#1c1c1c;stroke-width:0.16px">12</text>
<text transform="translate(419.80 242.70) rotate(0.03)" font-size="3.6" text-anchor="middle" fill="#1c1c1c"  style="stroke:#1c1c1c;stroke-width:0.16px">24</text>
<text transform="translate(440.60 242.70) rotate(0.03)" font-size="3.6" text-anchor="middle" fill="#1c1c1c"  style="stroke:#1c1c1c;stroke-width:0.16px">36</text>
<text transform="translate(461.30 242.70) rotate(0.03)" font-size="3.6" text-anchor="middle" fill="#1c1c1c"  style="stroke:#1c1c1c;stroke-width:0.16px">48</text>
<text transform="translate(482.50 242.70) rotate(0.03)" font-size="3.6" text-anchor="middle" fill="#1c1c1c"  style="stroke:#1c1c1c;stroke-width:0.16px">72</text>
<text transform="translate(503.50 242.70) rotate(0.03)" font-size="3.6" text-anchor="middle" fill="#1c1c1c"  style="stroke:#1c1c1c;stroke-width:0.16px">96</text>
<text transform="translate(513.00 242.70) rotate(0.03)" font-size="3.0" font-weight="bold" text-anchor="middle" fill="#1c1c1c"  style="stroke:#1c1c1c;stroke-width:0.16px">Weeks</text>
<text transform="translate(359.0,191.2) rotate(-89.97)" font-size="4.06" font-weight="bold" text-anchor="middle" fill="#000">Change from Baseline (%)</text>
<text transform="translate(436.30 251.30) rotate(0.03)" font-size="4.98" font-weight="bold" text-anchor="middle" fill="#000" >Figure 1C. Change in Total Symptom Score Over Time</text>
</g>
</g>
</svg>
</body></html>
